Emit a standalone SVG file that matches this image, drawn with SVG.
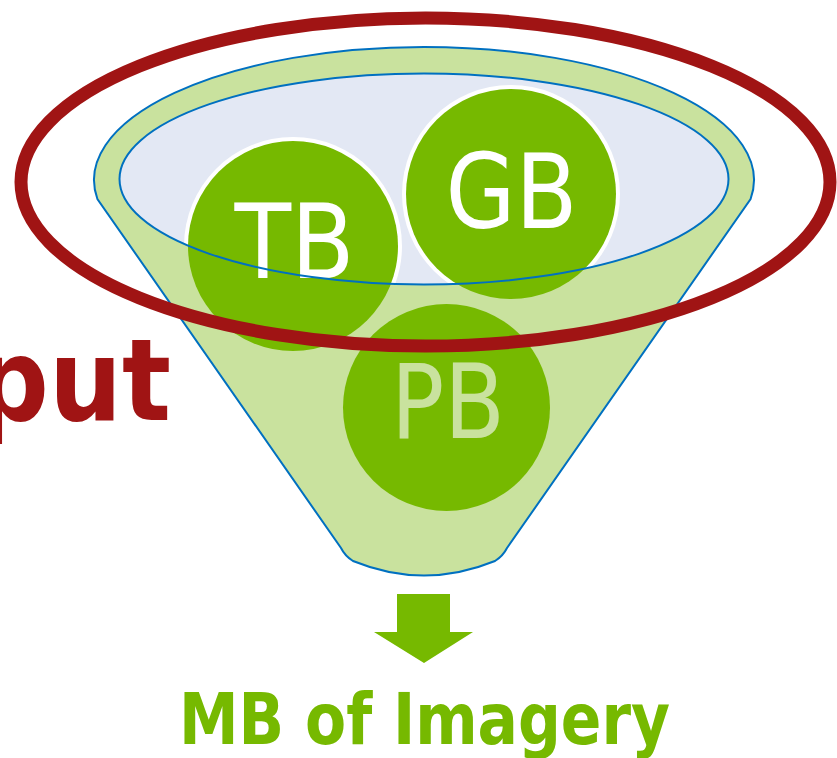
<svg xmlns="http://www.w3.org/2000/svg" width="837" height="758" viewBox="0 0 837 758">
  <style>
    .body { fill: #c9e29e; stroke: #0070c0; stroke-width: 2; }
    .mouth { fill: #e3e8f4; }
    .rim { fill: none; stroke: #0070c0; stroke-width: 2; }
    .ball { fill: #76b900; }
    .halo { fill: #ffffff; }
    .lbl { font-family: "DejaVu Sans Condensed", "DejaVu Sans", sans-serif; font-size: 103px; text-anchor: middle; }
    .white { fill: #ffffff; }
    .pale { fill: #c9e29e; }
    .ring { fill: none; stroke: #a01414; stroke-width: 13; }
    .arrow { fill: #76b900; }
  </style>
  <defs>
    <clipPath id="mouthClip">
      <ellipse cx="424" cy="179" rx="304.5" ry="105.5"/>
    </clipPath>
  </defs>

  <!-- funnel body: rim ellipse top plus cone -->
  <g id="funnel">
    <path class="body" d="M 97.4,199 A 330 133 0 1 1 750.6,199 L 507,548 Q 503,556 495,561 Q 424,590 353,561 Q 345,556 341,548 Z"/>
    <ellipse class="mouth" cx="424" cy="179" rx="304.5" ry="105.5"/>
  </g>

  <!-- white halos only show inside the funnel mouth -->
  <g id="halos" clip-path="url(#mouthClip)">
    <circle class="halo" cx="293" cy="246" r="109"/>
    <circle class="halo" cx="511" cy="194" r="109"/>
  </g>

  <g id="ball-tb">
    <circle class="ball" cx="293" cy="246" r="105"/>
    <text class="lbl white" x="294.5" y="278" textLength="120" lengthAdjust="spacingAndGlyphs">TB</text>
  </g>
  <g id="ball-gb">
    <circle class="ball" cx="511" cy="194" r="105"/>
    <text class="lbl white" x="511.5" y="228" textLength="132" lengthAdjust="spacingAndGlyphs">GB</text>
  </g>
  <g id="ball-pb">
    <circle class="ball" cx="446.5" cy="407.5" r="103.5"/>
    <text class="lbl pale" x="448" y="438" textLength="114" lengthAdjust="spacingAndGlyphs">PB</text>
  </g>

  <!-- mouth outline drawn over the balls -->
  <ellipse id="mouth-rim" class="rim" cx="424" cy="179" rx="304.5" ry="105.5"/>

  <!-- input highlight ring -->
  <g id="input">
    <ellipse class="ring" cx="425.5" cy="182" rx="404.5" ry="164"/>
    <text x="171" y="420" font-family="DejaVu Sans Condensed, DejaVu Sans, sans-serif" font-weight="bold" font-size="114" fill="#a01414" text-anchor="end">Input</text>
  </g>

  <g id="connectors">
    <polygon class="arrow" points="397,594 450,594 450,632 473,632 424,663 374,632 397,632"/>
  </g>

  <g id="output">
    <text x="179" y="744" font-family="DejaVu Sans Condensed, DejaVu Sans, sans-serif" font-weight="bold" font-size="71" fill="#76b900" textLength="491" lengthAdjust="spacingAndGlyphs">MB of Imagery</text>
  </g>
</svg>
